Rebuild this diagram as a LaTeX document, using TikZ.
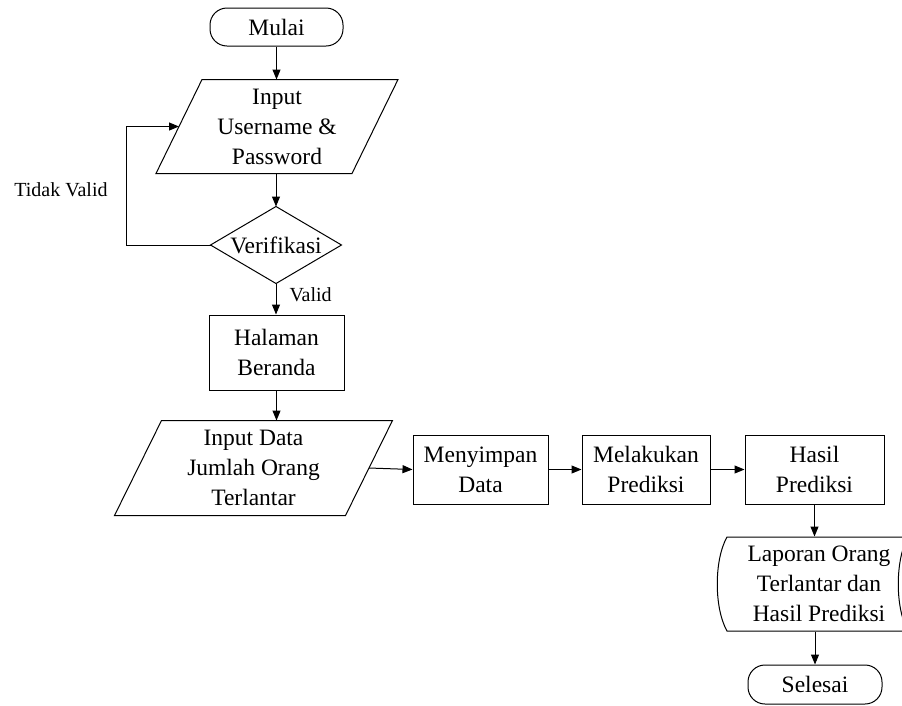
\documentclass[tikz,border=0pt]{standalone}
\usepackage{fontspec}
\setmainfont{LiberationSerif}[Extension=.ttf, UprightFont=*-Regular, BoldFont=*-Bold]
\usetikzlibrary{arrows.meta,calc}
\begin{document}
\begin{tikzpicture}[x=1pt,y=-1pt, line width=1pt,
  every node/.style={font=\fontsize{23.5}{30}\selectfont, align=center, inner sep=0pt},
  arr/.style={-{Triangle[length=10pt,width=8pt]}},
  term/.style={draw, rounded corners=17pt, minimum width=133pt, minimum height=38pt},
  procbox/.style={draw, minimum height=69pt},
  lbl/.style={font=\fontsize{20}{24}\selectfont}]
\useasboundingbox (0,0) rectangle (902,705);

% Start
\node[term] (mulai) at (276.5,27) {Mulai};

% Input username parallelogram
\node[minimum width=241pt, minimum height=93pt] (in1) at (277,126.5) {Input\\Username \&\\Password};
\draw ($(in1.north west)+(46,0)$) -- (in1.north east) -- ($(in1.south east)-(46,0)$) -- (in1.south west) -- cycle;
\coordinate (in1l) at ($(in1.west)+(23,0)$);

% Verification diamond
\node[minimum width=130pt, minimum height=76pt] (ver) at (276,245) {Verifikasi};
\draw (ver.north) -- (ver.east) -- (ver.south) -- (ver.west) -- cycle;

% Halaman beranda
\node[procbox, minimum width=135pt, minimum height=75pt] (hal) at (276.5,352.5) {Halaman\\Beranda};

% Input data parallelogram
\node[minimum width=277pt, minimum height=94pt] (in2) at (253.5,468) {Input Data\\Jumlah Orang\\Terlantar};
\draw ($(in2.north west)+(47,0)$) -- (in2.north east) -- ($(in2.south east)-(47,0)$) -- (in2.south west) -- cycle;
\coordinate (in2r) at ($(in2.east)-(23.5,0)$);

% Process boxes
\node[procbox, minimum width=135pt] (men) at (480.5,469.5) {Menyimpan\\Data};
\node[procbox, minimum width=128pt] (mel) at (646,469.5) {Melakukan\\Prediksi};
\node[procbox, minimum width=139pt] (has) at (814.5,469.5) {Hasil\\Prediksi};

% Stored data shape
\node[minimum width=160pt, minimum height=94pt] (lap) at (819,584) {Laporan Orang\\Terlantar dan\\Hasil Prediksi};
\draw (727,537) -- (908,537) .. controls (895,560) and (895,608) .. (908,631)
      -- (727,631) .. controls (714,608) and (714,560) .. (727,537) -- cycle;

% End
\node[term, minimum width=134pt, minimum height=39pt] (sel) at (815,684.5) {Selesai};

% Labels
\node[lbl] (tv) at (61,190) {Tidak Valid};
\node[lbl, anchor=west] (vl) at (289,295) {Valid};

% Connectors
\draw[arr] (mulai.south) -- (mulai.south |- in1.north);
\draw[arr] (in1.south -| ver.north) -- (ver.north);
\draw[arr] (ver.west) -- ++(-84,0) |- (in1l);
\draw[arr] (ver.south) -- (ver.south |- hal.north);
\draw[arr] (hal.south) -- (hal.south |- in2.north);
\draw[arr] (in2r) -- (men.west);
\draw[arr] (men.east) -- (mel.west);
\draw[arr] (mel.east) -- (has.west);
\draw[arr] (has.south) -- (has.south |- lap.north);
\draw[arr] (lap.south -| sel.north) -- (sel.north);
\end{tikzpicture}
\end{document}
